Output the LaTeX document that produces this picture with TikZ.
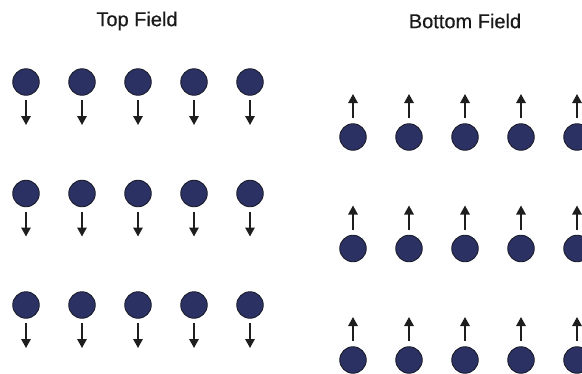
\documentclass[tikz,border=0pt]{standalone}
\usepackage{fontspec}
\setmainfont{Liberation Sans}
\newfontfamily\titlefont[FakeBold=0.5]{Liberation Sans}
\usetikzlibrary{arrows.meta}
\definecolor{dotfill}{HTML}{2B3263}
\definecolor{dotline}{HTML}{1A1C2C}
\definecolor{arrcol}{HTML}{1E1E1E}
\tikzset{
  dot/.style={circle, fill=dotfill, draw=dotline, line width=0.9pt, minimum size=26.5pt, inner sep=0pt},
  arr/.style={draw=arrcol, line width=1.4pt, -{Triangle[width=9.5pt,length=9pt]}},
  title/.style={font=\titlefont\fontsize{20}{24}\selectfont, text=black!90}
}
\begin{document}
\begin{tikzpicture}[x=1pt,y=-1pt]
\useasboundingbox (0,0) rectangle (582,373);
\node[title] (ttop) at (137,21) {Top Field};
\node[title] (tbot) at (465,21) {Bottom Field};
\foreach \r/\yy in {1/82,2/193.5,3/305}{
  \foreach \c/\xx in {1/26,2/82,3/138,4/194,5/250}{
    \node[dot] (t\r\c) at (\xx,\yy) {};
    \coordinate (ta\r\c) at (\xx,\yy+18);
    \coordinate (tb\r\c) at (\xx,\yy+43);
    \draw[arr] (ta\r\c) -- (tb\r\c);
  }
}
\foreach \r/\yy in {1/137,2/248.5,3/360}{
  \foreach \c/\xx in {1/353,2/409,3/465,4/521,5/577}{
    \node[dot] (b\r\c) at (\xx,\yy) {};
    \coordinate (ba\r\c) at (\xx,\yy-19);
    \coordinate (bb\r\c) at (\xx,\yy-43);
    \draw[arr] (ba\r\c) -- (bb\r\c);
  }
}
\end{tikzpicture}
\end{document}
